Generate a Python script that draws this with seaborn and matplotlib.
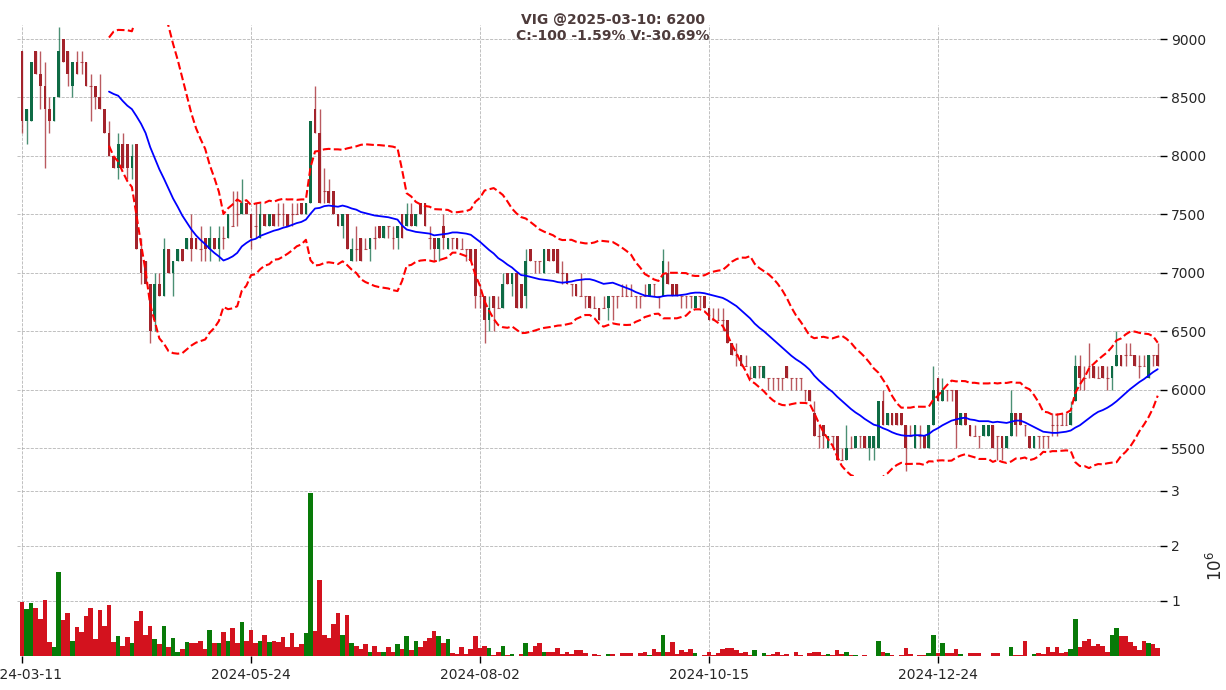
import numpy as np
import pandas as pd
import matplotlib
matplotlib.use("Agg")
import matplotlib.pyplot as plt
import seaborn as sns

# VIG daily prices (VND), 2024-03-11 .. 2025-03-10
opens = [
    8900, 8300, 8300, 8900, 8700, 8600, 8400, 8300, 8500, 9000,
    8900, 8600, 8800, 8800, 8800, 8600, 8600, 8500, 8400, 8200,
    8000, 7900, 8100, 8100, 7900, 8100, 7200, 7100, 6900, 6600,
    6900, 6800, 7200, 7000, 7100, 7200, 7200, 7300, 7300, 7200,
    7300, 7200, 7300, 7200, 7300, 7300, 7400, 7500, 7500, 7600,
    7500, 7400, 7300, 7500, 7400, 7500, 7500, 7500, 7500, 7500,
    7500, 7600, 7500, 7600, 8400, 8200, 7700, 7700, 7700, 7500,
    7400, 7500, 7100, 7200, 7300, 7200, 7200, 7300, 7400, 7300,
    7400, 7300, 7300, 7500, 7400, 7500, 7400, 7600, 7600, 7300,
    7300, 7200, 7400, 7200, 7300, 7300, 7200, 7200, 7200, 7200,
    6800, 6800, 6600, 6800, 6700, 6700, 7000, 6900, 7000, 6900,
    6800, 7200, 7100, 7100, 7000, 7200, 7200, 7200, 7000, 7000,
    6900, 6900, 6800, 6800, 6800, 6700, 6700, 6700, 6700, 6800,
    6800, 6800, 6800, 6800, 6800, 6800, 6800, 6800, 6900, 6800,
    6800, 7000, 6900, 6900, 6800, 6800, 6800, 6700, 6800, 6800,
    6700, 6600, 6600, 6600, 6600, 6400, 6300, 6300, 6200, 6100,
    6100, 6200, 6100, 6100, 6100, 6100, 6100, 6200, 6100, 6100,
    6100, 6000, 6000, 5800, 5600, 5700, 5500, 5600, 5600, 5400,
    5400, 5500, 5500, 5600, 5600, 5500, 5500, 5500, 5900, 5700,
    5800, 5800, 5800, 5700, 5600, 5500, 5600, 5600, 5500, 5700,
    6100, 5900, 6000, 6000, 6000, 5700, 5800, 5700, 5600, 5600,
    5600, 5600, 5700, 5600, 5600, 5500, 5600, 5800, 5800, 5700,
    5600, 5500, 5600, 5600, 5600, 5700, 5700, 5700, 5700, 5700,
    5900, 6200, 6100, 6200, 6200, 6100, 6200, 6100, 6100, 6200,
    6300, 6300, 6300, 6300, 6200, 6200, 6100, 6300, 6300,
]
highs = [
    8900, 8400, 8800, 8900, 8900, 8800, 8500, 8500, 9100, 9000,
    8900, 8800, 8900, 8900, 8800, 8700, 8600, 8700, 8400, 8300,
    8000, 8200, 8200, 8100, 8100, 8100, 7300, 7100, 6900, 7000,
    7000, 7300, 7200, 7100, 7200, 7200, 7300, 7500, 7300, 7400,
    7300, 7400, 7300, 7400, 7400, 7500, 7700, 7700, 7800, 7600,
    7500, 7600, 7600, 7500, 7500, 7500, 7600, 7600, 7500, 7600,
    7600, 7600, 7600, 8300, 8600, 8400, 7900, 7800, 7700, 7500,
    7500, 7500, 7300, 7400, 7300, 7300, 7300, 7400, 7400, 7400,
    7400, 7400, 7400, 7500, 7600, 7600, 7500, 7600, 7600, 7400,
    7300, 7300, 7500, 7300, 7300, 7300, 7300, 7200, 7200, 7200,
    6900, 6800, 6800, 6800, 6800, 7000, 7000, 7000, 7000, 6900,
    7200, 7200, 7100, 7100, 7200, 7200, 7200, 7200, 7100, 7000,
    6900, 6900, 7000, 6800, 6800, 6800, 6700, 6800, 6800, 6800,
    6800, 6900, 6900, 6900, 6800, 6800, 6900, 6900, 6900, 6800,
    7200, 7100, 6900, 6900, 6800, 6800, 6800, 6800, 6800, 6800,
    6700, 6700, 6700, 6700, 6600, 6400, 6400, 6300, 6300, 6200,
    6200, 6200, 6200, 6100, 6100, 6100, 6100, 6200, 6100, 6100,
    6100, 6000, 6000, 5900, 5700, 5700, 5600, 5600, 5600, 5500,
    5700, 5600, 5600, 5600, 5600, 5600, 5600, 5900, 6000, 5800,
    5800, 5800, 5800, 5700, 5700, 5700, 5700, 5600, 5700, 6200,
    6100, 6100, 6000, 6000, 6000, 5800, 5800, 5700, 5700, 5600,
    5700, 5700, 5700, 5600, 5600, 5600, 6000, 5800, 5800, 5700,
    5600, 5600, 5600, 5600, 5600, 5800, 5800, 5800, 5800, 5900,
    6300, 6300, 6200, 6400, 6200, 6200, 6200, 6200, 6200, 6500,
    6300, 6400, 6400, 6300, 6300, 6300, 6300, 6300, 6400,
]
lows = [
    8200, 8100, 8300, 8700, 8400, 7900, 8200, 8300, 8500, 8800,
    8600, 8500, 8700, 8700, 8600, 8300, 8400, 8400, 8200, 8000,
    7900, 7800, 7900, 7800, 7800, 7200, 6900, 6900, 6400, 6500,
    6800, 6800, 7000, 6800, 7100, 7100, 7200, 7100, 7200, 7100,
    7100, 7100, 7200, 7100, 7200, 7300, 7400, 7400, 7500, 7500,
    7200, 7300, 7300, 7400, 7400, 7400, 7400, 7400, 7400, 7400,
    7500, 7500, 7500, 7600, 8200, 7600, 7600, 7600, 7500, 7400,
    7300, 7200, 7100, 7100, 7100, 7200, 7100, 7200, 7300, 7300,
    7300, 7200, 7200, 7300, 7400, 7400, 7400, 7500, 7400, 7200,
    7100, 7100, 7200, 7200, 7200, 7200, 7200, 7100, 7100, 6700,
    6700, 6400, 6500, 6500, 6700, 6700, 6900, 6800, 6700, 6700,
    6700, 7100, 7000, 7000, 7000, 7100, 7100, 7000, 6900, 6900,
    6800, 6800, 6800, 6700, 6700, 6700, 6600, 6700, 6600, 6600,
    6700, 6800, 6800, 6800, 6700, 6700, 6800, 6800, 6800, 6700,
    6800, 6900, 6800, 6800, 6700, 6700, 6700, 6700, 6700, 6700,
    6600, 6600, 6600, 6500, 6400, 6300, 6200, 6200, 6200, 6100,
    6100, 6100, 6100, 6000, 6000, 6000, 6000, 6100, 6000, 6000,
    6000, 5900, 5900, 5600, 5500, 5500, 5500, 5500, 5400, 5400,
    5400, 5500, 5500, 5500, 5500, 5400, 5400, 5500, 5700, 5700,
    5700, 5700, 5700, 5300, 5600, 5500, 5500, 5500, 5500, 5700,
    5900, 5900, 5900, 5900, 5500, 5700, 5700, 5600, 5600, 5500,
    5600, 5600, 5500, 5400, 5400, 5500, 5600, 5600, 5700, 5600,
    5500, 5500, 5500, 5500, 5500, 5600, 5600, 5700, 5700, 5700,
    5900, 6000, 6000, 6100, 6100, 6100, 6100, 6000, 6000, 6200,
    6200, 6200, 6300, 6200, 6100, 6200, 6100, 6200, 6200,
]
closes = [
    8300, 8400, 8800, 8700, 8600, 8400, 8300, 8500, 8900, 8800,
    8700, 8800, 8700, 8800, 8600, 8600, 8500, 8400, 8200, 8000,
    7900, 8100, 7900, 7900, 8000, 7200, 7000, 6900, 6500, 6900,
    6800, 7200, 7000, 7100, 7200, 7100, 7300, 7200, 7200, 7200,
    7200, 7300, 7200, 7300, 7300, 7500, 7400, 7500, 7600, 7500,
    7300, 7400, 7500, 7400, 7500, 7400, 7500, 7500, 7400, 7500,
    7500, 7500, 7600, 8300, 8200, 7600, 7700, 7600, 7500, 7400,
    7500, 7200, 7200, 7200, 7100, 7200, 7300, 7300, 7300, 7400,
    7400, 7300, 7400, 7300, 7500, 7400, 7500, 7500, 7400, 7300,
    7200, 7300, 7300, 7300, 7300, 7200, 7200, 7200, 7100, 6800,
    6800, 6600, 6700, 6700, 6700, 6900, 6900, 7000, 6700, 6700,
    7100, 7100, 7100, 7100, 7200, 7100, 7100, 7000, 7000, 6900,
    6900, 6800, 6800, 6800, 6700, 6700, 6600, 6700, 6800, 6800,
    6800, 6800, 6800, 6800, 6800, 6800, 6800, 6900, 6900, 6800,
    7100, 6900, 6800, 6800, 6800, 6800, 6800, 6800, 6800, 6700,
    6600, 6600, 6600, 6600, 6400, 6300, 6300, 6200, 6200, 6100,
    6200, 6200, 6200, 6100, 6100, 6100, 6100, 6100, 6100, 6100,
    6100, 6000, 5900, 5600, 5600, 5600, 5600, 5600, 5400, 5400,
    5500, 5500, 5600, 5600, 5500, 5600, 5600, 5900, 5700, 5800,
    5700, 5700, 5700, 5500, 5600, 5700, 5600, 5500, 5700, 6000,
    5900, 6000, 6000, 6000, 5700, 5800, 5700, 5600, 5600, 5600,
    5700, 5700, 5500, 5600, 5500, 5600, 5800, 5700, 5700, 5700,
    5500, 5600, 5600, 5600, 5600, 5700, 5700, 5700, 5700, 5800,
    6200, 6100, 6100, 6200, 6100, 6100, 6100, 6100, 6200, 6300,
    6200, 6300, 6300, 6200, 6200, 6200, 6300, 6300, 6200,
]
# volume in millions of shares
volumes = [
    0.99, 0.85, 0.96, 0.88, 0.68, 1.01, 0.25, 0.16, 1.52, 0.65,
    0.78, 0.28, 0.52, 0.43, 0.72, 0.87, 0.30, 0.83, 0.54, 0.92,
    0.25, 0.36, 0.19, 0.34, 0.23, 0.63, 0.81, 0.39, 0.54, 0.30,
    0.21, 0.54, 0.16, 0.32, 0.08, 0.12, 0.25, 0.23, 0.23, 0.27,
    0.12, 0.48, 0.23, 0.23, 0.43, 0.27, 0.50, 0.23, 0.61, 0.27,
    0.47, 0.23, 0.27, 0.39, 0.25, 0.27, 0.25, 0.34, 0.16, 0.41,
    0.16, 0.21, 0.41, 2.96, 0.45, 1.38, 0.38, 0.32, 0.58, 0.78,
    0.39, 0.74, 0.23, 0.19, 0.12, 0.21, 0.07, 0.18, 0.08, 0.08,
    0.16, 0.08, 0.21, 0.12, 0.36, 0.10, 0.28, 0.16, 0.27, 0.32,
    0.45, 0.36, 0.23, 0.30, 0.05, 0.03, 0.16, 0.03, 0.12, 0.36,
    0.14, 0.18, 0.14, 0.01, 0.07, 0.19, 0.01, 0.03, 0.005, 0.03,
    0.23, 0.08, 0.18, 0.23, 0.07, 0.08, 0.08, 0.14, 0.03, 0.07,
    0.03, 0.10, 0.10, 0.05, 0.0, 0.03, 0.01, 0.0, 0.03, 0.03,
    0.0, 0.05, 0.05, 0.05, 0.0, 0.05, 0.08, 0.01, 0.12, 0.07,
    0.38, 0.08, 0.25, 0.03, 0.10, 0.07, 0.12, 0.05, 0.0, 0.01,
    0.07, 0.01, 0.05, 0.12, 0.14, 0.14, 0.10, 0.05, 0.07, 0.01,
    0.10, 0.0, 0.05, 0.01, 0.03, 0.07, 0.01, 0.03, 0.0, 0.07,
    0.01, 0.0, 0.05, 0.07, 0.07, 0.01, 0.03, 0.01, 0.10, 0.03,
    0.07, 0.01, 0.01, 0.0, 0.01, 0.0, 0.0, 0.27, 0.08, 0.05,
    0.01, 0.0, 0.01, 0.14, 0.03, 0.0, 0.01, 0.01, 0.05, 0.39,
    0.05, 0.23, 0.05, 0.05, 0.12, 0.03, 0.0, 0.05, 0.05, 0.05,
    0.0, 0.0, 0.05, 0.05, 0.0, 0.0, 0.16, 0.01, 0.01, 0.27,
    0.0, 0.03, 0.05, 0.03, 0.16, 0.08, 0.16, 0.05, 0.08, 0.12,
    0.67, 0.16, 0.27, 0.30, 0.18, 0.21, 0.18, 0.08, 0.39, 0.50,
    0.36, 0.36, 0.25, 0.19, 0.10, 0.27, 0.23, 0.21, 0.145,
]

tick_pos = [0, 50, 100, 150, 200]
tick_labels = ["2024-03-11", "2024-05-24", "2024-08-02", "2024-10-15", "2024-12-24"]
title_line1 = "VIG @2025-03-10: 6200"
title_line2 = "C:-100 -1.59% V:-30.69%"

df = pd.DataFrame({"open": opens, "high": highs, "low": lows,
                   "close": closes, "volume": volumes})
df["idx"] = np.arange(len(df))
# bollinger bands, 20 sessions, 2 std
df["mid"] = df["close"].rolling(20).mean()
std = df["close"].rolling(20).std(ddof=0)
df["upper"] = df["mid"] + 2 * std
df["lower"] = df["mid"] - 2 * std

up = df["close"] > df["open"]
candle_col = np.where(up, "#0e6b45", "#a3232b")
vol_col = np.where(up, "#087a08", "#d3121e")

sns.set_style("white")
plt.rcParams["font.family"] = ["DejaVu Sans"]

fig = plt.figure(figsize=(12.26, 6.9), dpi=100)
left, width = 17.4 / 1226, (1160 - 17.4) / 1226
ax1 = fig.add_axes([left, 1 - 476 / 690, width, (476 - 25) / 690])
ax2 = fig.add_axes([left, 1 - 656 / 690, width, (656 - 476) / 690], sharex=ax1)

grid_kw = dict(color="#b5b5b5", linestyle="--", linewidth=0.6)

# candles
body_lo = np.minimum(df["open"], df["close"])
body_h = (df["close"] - df["open"]).abs()
ax1.vlines(df["idx"], df["low"], df["high"], colors=candle_col, linewidth=1.0, alpha=0.75)
ax1.bar(df["idx"], body_h, bottom=body_lo, width=0.6, color=candle_col, linewidth=0)
doji = body_h == 0
ax1.hlines(df.loc[doji, "close"], df.loc[doji, "idx"] - 0.3, df.loc[doji, "idx"] + 0.3,
           colors=candle_col[doji.values], linewidth=0.8, alpha=0.75)

# bands
sns.lineplot(data=df, x="idx", y="mid", ax=ax1, color="blue", linewidth=1.3, estimator=None)
sns.lineplot(data=df, x="idx", y="upper", ax=ax1, color="red", linestyle="--", linewidth=1.5, estimator=None)
sns.lineplot(data=df, x="idx", y="lower", ax=ax1, color="red", linestyle="--", linewidth=1.5, estimator=None)

ax1.set_ylim(5261, 9120)
ax1.set_yticks(range(5500, 9001, 500))
ax1.set_xlim(-1, 248.5)
ax1.grid(True, **grid_kw)
ax1.set_axisbelow(True)
ax1.set_xlabel("")
ax1.set_ylabel("")
ax1.yaxis.tick_right()
ax1.tick_params(axis="y", right=True, length=5, width=1, color="black", labelsize=10, pad=3)
ax1.tick_params(axis="x", bottom=False, labelbottom=False)

# volume
ax2.bar(df["idx"], df["volume"], width=1.0, color=vol_col, linewidth=0)
ax2.set_ylim(0, 3.27)
ax2.set_yticks([1, 2, 3])
ax2.set_yticklabels(["1", "2", "3"])
ax2.grid(True, **grid_kw)
ax2.set_axisbelow(True)
ax2.yaxis.tick_right()
ax2.yaxis.set_label_position("right")
ax2.set_ylabel(r"$10^{6}$", fontsize=12, labelpad=19)
ax2.set_xticks(tick_pos)
ax2.set_xticklabels(tick_labels)
ax2.tick_params(axis="y", right=True, length=5, width=1, color="black", labelsize=10, pad=3)
ax2.tick_params(axis="x", bottom=True, length=5, width=1, color="black", labelsize=10)

for ax in (ax1, ax2):
    for s in ax.spines.values():
        s.set_visible(False)

fig.text(0.5, 1 - 20 / 690, title_line1, ha="center", va="center",
         fontsize=10, fontweight="bold", color="#4d3b3b")
fig.text(0.5, 1 - 36 / 690, title_line2, ha="center", va="center",
         fontsize=10, fontweight="bold", color="#4d3b3b")

fig.savefig("out.png", dpi=100)
